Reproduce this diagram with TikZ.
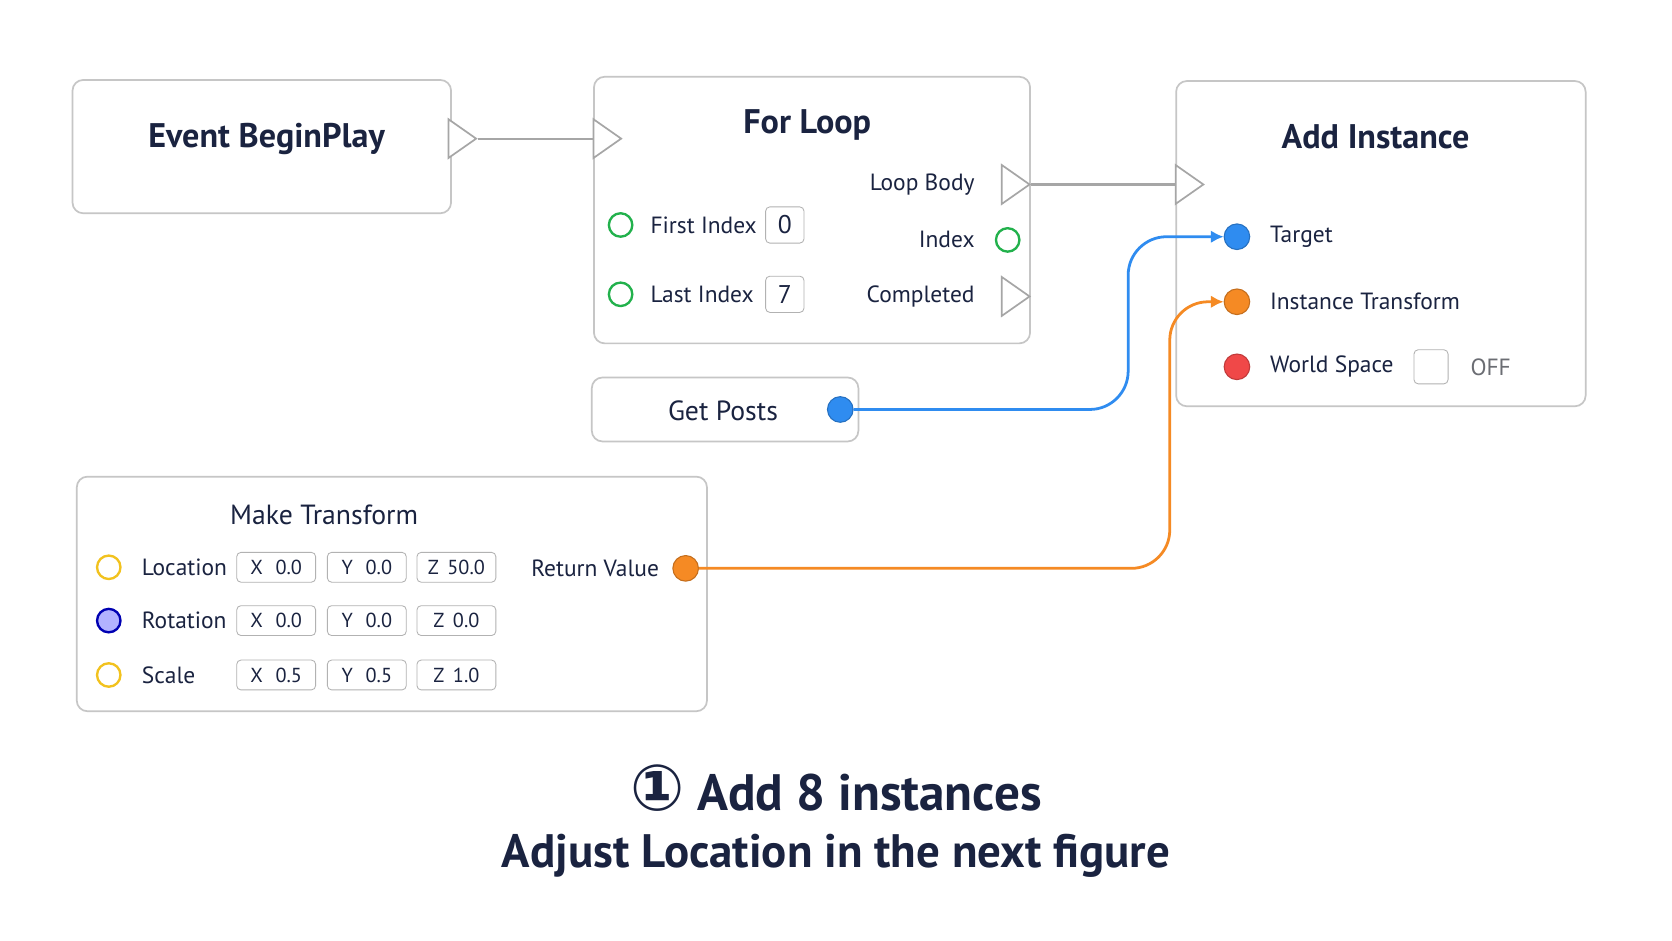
\documentclass[tikz,border=0pt]{standalone}
\usepackage{fontspec}
\setmainfont{PT Sans}
\newfontfamily\symfont{DejaVu Sans}
\usetikzlibrary{arrows.meta, positioning, shapes.geometric}
\definecolor{pinblue}{HTML}{2F8CF0}
\definecolor{pinorange}{HTML}{F58A24}
\definecolor{pinred}{HTML}{F04848}
\definecolor{pingreen}{HTML}{22B14C}
\definecolor{pinyellow}{HTML}{F2C21E}
\definecolor{navy}{HTML}{1A2340}
\begin{document}
\begin{tikzpicture}[x=0.5pt, y=-0.5pt,
  box/.style={draw=gray!45, line width=0.8pt, rounded corners=5pt, fill=white},
  title/.style={font=\fontsize{16}{19}\bfseries, text=navy},
  lbl/.style={font=\fontsize{11}{13}\selectfont, text=navy},
  pin/.style={circle, draw=#1, line width=1.1pt, minimum size=11pt, inner sep=0pt},
  dot/.style={circle, draw=#1!80!black, fill=#1, line width=0.5pt, minimum size=12pt, inner sep=0pt},
  exec/.style={isosceles triangle, isosceles triangle apex angle=70, draw=gray!70, fill=white, line width=0.8pt, minimum height=13pt, inner sep=0pt},
  field/.style={draw=gray!60, rounded corners=2pt, minimum width=37pt, minimum height=14pt, inner sep=0pt, font=\fontsize{9.5}{11}\selectfont, text=navy},
  wire/.style={line width=1.3pt, rounded corners=18pt, -{Latex[length=6pt,width=6pt]}}]
\useasboundingbox[fill=white] (0,0) rectangle (1568,882);
% Event BeginPlay
\draw[box] (68,75) rectangle (423,200);
\node[title] (begin) at (250,130) {Event BeginPlay};
\node[exec] (beginout) at (430,130) {};
% For Loop
\draw[box] (557,72) rectangle (966,322);
\node[title] (loop) at (757,117) {For Loop};
\node[exec] (loopin) at (566,130) {};
\node[exec] (bodyout) at (949,173) {};
\node[lbl, anchor=east] (body) at (921,173) {Loop Body};
\node[pin=pingreen] (first) at (582,211) {};
\node[lbl, anchor=west] (firstl) at (603,211) {First Index};
\node[field, minimum width=18pt, minimum height=17pt] (firstv) at (736,211) {\fontsize{12}{14}\selectfont 0};
\node[pin=pingreen] (last) at (582,276) {};
\node[lbl, anchor=west] (lastl) at (603,276) {Last Index};
\node[field, minimum width=18pt, minimum height=17pt] (lastv) at (736,276) {\fontsize{12}{14}\selectfont 7};
\node[pin=pingreen] (index) at (945,225) {};
\node[lbl, anchor=east] (indexl) at (921,225) {Index};
\node[exec] (doneout) at (949,278) {};
\node[lbl, anchor=east] (donel) at (921,278) {Completed};
% Add Instance
\draw[box] (1103,76) rectangle (1487,381);
\node[title] (add) at (1290,128) {Add Instance};
\node[exec] (addin) at (1112,173) {};
\node[dot=pinblue] (target) at (1160,222) {};
\node[lbl, anchor=west] (targetl) at (1184,222) {Target};
\node[dot=pinorange] (xform) at (1160,283) {};
\node[lbl, anchor=west] (xforml) at (1184,283) {Instance Transform};
\node[dot=pinred] (world) at (1160,344) {};
\node[lbl, anchor=west] (worldl) at (1184,344) {World Space};
\node[draw=gray!60, rounded corners=2pt, minimum size=16pt] (check) at (1342,344) {};
\node[lbl, text=gray!80!navy, anchor=west] (off) at (1372,344) {OFF};
% Get Posts
\draw[box] (555,354) rectangle (805,414);
\node[lbl, font=\fontsize{13}{16}\selectfont] (posts) at (678,385) {Get Posts};
\node[dot=pinblue] (postsout) at (788,384) {};
% Make Transform
\draw[box] (72,447) rectangle (663,667);
\node[lbl, font=\fontsize{13}{16}\selectfont] (make) at (304,483) {Make Transform};
\node[pin=pinyellow] (loc) at (102,532) {};
\node[lbl, anchor=west] (locl) at (126,532) {Location};
\node[pin=blue!70!black, fill=blue!30] (rot) at (102,582) {};
\node[lbl, anchor=west] (rotl) at (126,582) {Rotation};
\node[pin=pinyellow] (scl) at (102,633) {};
\node[lbl, anchor=west] (scll) at (126,633) {Scale};
\foreach \y/\a/\b/\c in {532/0.0/0.0/50.0, 582/0.0/0.0/0.0, 633/0.5/0.5/1.0} {
  \node[field] at (259,\y) {X\hspace{6pt}\a};
  \node[field] at (344,\y) {Y\hspace{6pt}\b};
  \node[field] at (428,\y) {Z\hspace{4pt}\c};
}
\node[dot=pinorange] (ret) at (643,533) {};
\node[lbl, anchor=east] (retl) at (625,533) {Return Value};
% wires
\draw[gray!70, line width=1pt] (beginout.apex) -- (loopin.west);
\draw[gray!70, line width=1pt] (bodyout.apex) -- (addin.west);
\draw[wire, pinblue] (postsout.east) -| (1058,222) -- (target.west);
\draw[wire, pinorange] (ret.east) -| (1097,283) -- (xform.west);
% caption
\node[font=\fontsize{24}{28}\bfseries, text=navy] (cap1) at (784,739) {{\symfont\fontsize{30}{34}\selectfont ①} Add 8 instances};
\node[font=\fontsize{22}{26}\bfseries, text=navy] (cap2) at (784,803) {Adjust Location in the next figure};
\end{tikzpicture}
\end{document}
